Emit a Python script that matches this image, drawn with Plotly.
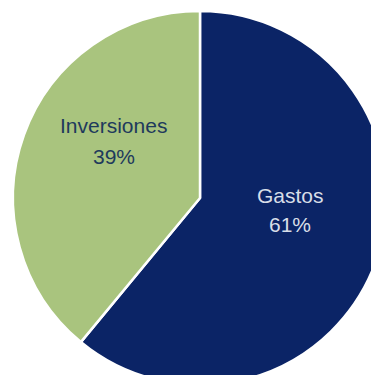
import plotly.graph_objects as go

# Budget split
categories = ["Gastos", "Inversiones"]
values = [61, 39]
slice_colors = ["#0B2466", "#A9C47E"]
text_colors = ["#D8DEE8", "#1E3A5C"]

W, H = 400, 400
cx, cy, r = 200, 198, 187  # pixel centre (from top-left) and radius

fig = go.Figure(
    go.Pie(
        labels=categories,
        values=values,
        sort=False,
        direction="clockwise",
        rotation=0,
        marker=dict(colors=slice_colors, line=dict(color="white", width=2.5)),
        textinfo="none",
        showlegend=False,
        hoverinfo="skip",
        domain=dict(
            x=[(cx - r) / W, (cx + r) / W],
            y=[(H - cy - r) / H, (H - cy + r) / H],
        ),
    )
)

# label anchor points (pixels from top-left) for each slice: name line, percent line
label_pos = [(290, 195, 224), (114, 126, 156)]
total = sum(values)
for name, val, col, (px, py_name, py_pct) in zip(categories, values, text_colors, label_pos):
    pct = f"{round(val / total * 100)}%"
    for txt, py in ((name, py_name), (pct, py_pct)):
        fig.add_annotation(
            x=px / W,
            y=1 - py / H,
            xref="paper",
            yref="paper",
            text=txt,
            showarrow=False,
            xanchor="center",
            yanchor="middle",
            font=dict(family="Liberation Sans, Arial, sans-serif", size=21, color=col),
        )

fig.update_layout(
    width=W,
    height=H,
    margin=dict(l=0, r=0, t=0, b=0),
    paper_bgcolor="white",
    plot_bgcolor="white",
)

fig.write_html(
    "out.html",
    config={"displayModeBar": False},
    post_script="document.documentElement.style.overflow='hidden';document.body.style.overflow='hidden';document.body.style.margin='0';",
)
